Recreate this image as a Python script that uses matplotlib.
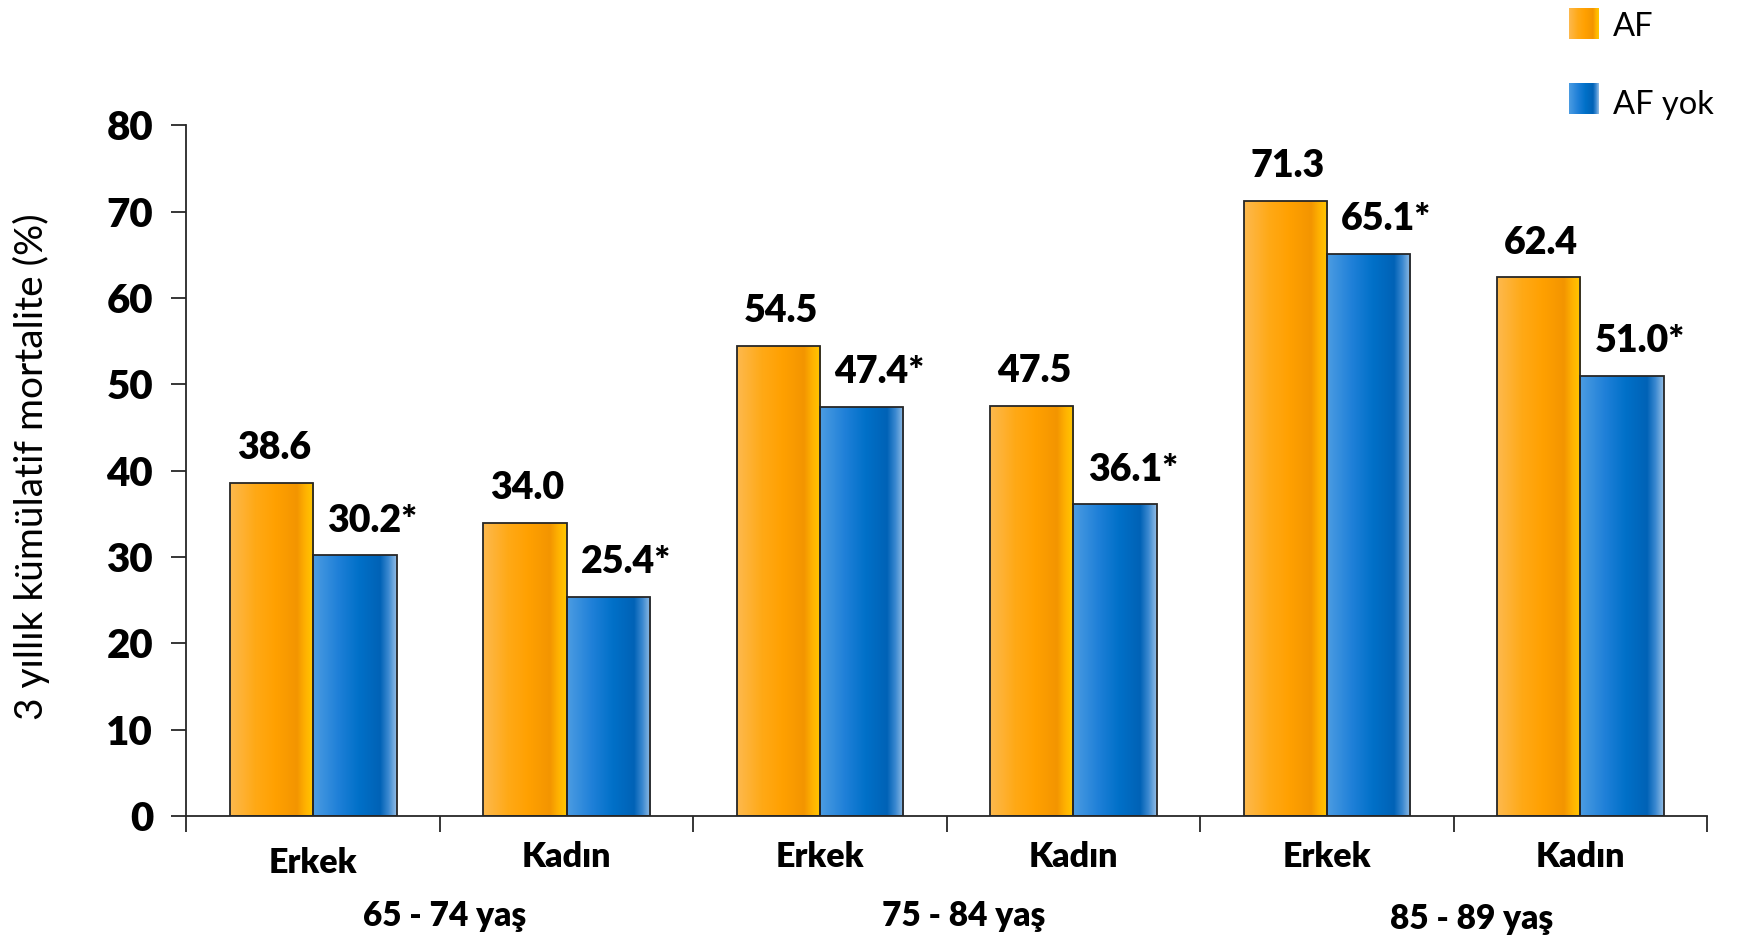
import matplotlib
matplotlib.use("Agg")
import matplotlib.pyplot as plt
import numpy as np
from matplotlib.colors import LinearSegmentedColormap

plt.rcParams["font.family"] = ["Lato", "DejaVu Sans"]

# 3-year cumulative mortality (%) by age group and sex
groups = ["65 - 74 yaş", "75 - 84 yaş", "85 - 89 yaş"]
sexes = ["Erkek", "Kadın", "Erkek", "Kadın", "Erkek", "Kadın"]
af_values = [38.6, 34.0, 54.5, 47.5, 71.3, 62.4]
no_af_values = [30.2, 25.4, 47.4, 36.1, 65.1, 51.0]
af_labels = ["38.6", "34.0", "54.5", "47.5", "71.3", "62.4"]
no_af_labels = ["30.2*", "25.4*", "47.4*", "36.1*", "65.1*", "51.0*"]
yticks = [0, 10, 20, 30, 40, 50, 60, 70, 80]

BOLD = "heavy"

orange_cmap = LinearSegmentedColormap.from_list(
    "af", [(0.0, "#FDB94E"), (0.3, "#FFA916"), (0.55, "#FFA000"),
           (0.8, "#F39500"), (0.9, "#FFB200"), (1.0, "#FFC800")])
blue_cmap = LinearSegmentedColormap.from_list(
    "noaf", [(0.0, "#4C9CE2"), (0.3, "#1F80D8"), (0.55, "#0070C8"),
             (0.8, "#0062B6"), (0.9, "#3A88D0"), (1.0, "#94BEE6")])
grad = np.linspace(0, 1, 256).reshape(1, -1)

fig = plt.figure(figsize=(17.41, 9.40), dpi=100)
ax = fig.add_axes([0.1071, 0.1319, 0.8734, 0.7346])

x = np.arange(len(sexes))
w = 0.329


def gradient_bars(xpos, values, cmap):
    bars = ax.bar(xpos, values, w, facecolor="none", edgecolor="#262626",
                  linewidth=1.3, zorder=3)
    for b in bars:
        x0, y0 = b.get_x(), b.get_y()
        im = ax.imshow(grad, cmap=cmap, aspect="auto", zorder=2,
                       extent=(x0, x0 + b.get_width(), y0, y0 + b.get_height()))
        im.set_clip_path(b)
    return bars


af_bars = gradient_bars(x - w / 2, af_values, orange_cmap)
no_af_bars = gradient_bars(x + w / 2, no_af_values, blue_cmap)

for b, v, lab in zip(af_bars, af_values, af_labels):
    ax.annotate(lab, (b.get_x() + b.get_width() / 2 + 0.01, v), xytext=(0, 17),
                textcoords="offset points", ha="center", va="baseline",
                fontsize=27, fontweight=BOLD)
for b, v, lab in zip(no_af_bars, no_af_values, no_af_labels):
    ax.annotate(lab, (b.get_x() + b.get_width() / 2 + 0.07, v), xytext=(0, 17),
                textcoords="offset points", ha="center", va="baseline",
                fontsize=27, fontweight=BOLD)

ax.set_xlim(-0.5, len(sexes) - 0.5)
ax.set_ylim(0, 80)
ax.set_yticks(yticks)
ax.set_yticklabels([str(t) for t in yticks], fontsize=29, fontweight=BOLD)
ax.set_xticks(np.arange(-0.5, len(sexes), 1.0))
ax.set_xticklabels([])
ax.tick_params(axis="y", length=11, width=1.3, color="#262626", pad=13)
ax.tick_params(axis="x", length=11.5, width=1.3, color="#262626")
for s in ["top", "right"]:
    ax.spines[s].set_visible(False)
for s in ["left", "bottom"]:
    ax.spines[s].set_linewidth(1.3)
    ax.spines[s].set_color("#262626")

tr = ax.get_xaxis_transform()
for i, s in enumerate(sexes):
    ypos = -0.0676 if i == 0 else -0.0594
    ax.text(i, ypos, s, transform=tr, ha="center", va="center",
            fontsize=24.5, fontweight=BOLD)
group_y = [-0.1448, -0.1448, -0.149]
group_dx = [0.02, 0.066, 0.07]
for g, name in enumerate(groups):
    ax.text(2 * g + 0.5 + group_dx[g], group_y[g], name, transform=tr,
            ha="center", va="center", fontsize=24, fontweight=BOLD)

fig.text(0.0178, 0.504, "3 yıllık kümülatif mortalite (%)", rotation=90,
         ha="center", va="center", fontsize=28)

# legend swatches in the top right corner
for bottom, cmap, label, ty in [(0.9586, orange_cmap, "AF", 0.971),
                                (0.8787, blue_cmap, "AF yok", 0.8885)]:
    sw = fig.add_axes([0.9012, bottom, 0.0172, 0.033])
    sw.imshow(grad, cmap=cmap, aspect="auto")
    sw.axis("off")
    fig.text(0.9265, ty, label, ha="left", va="center", fontsize=23.5)

fig.savefig("out.png", dpi=100)
